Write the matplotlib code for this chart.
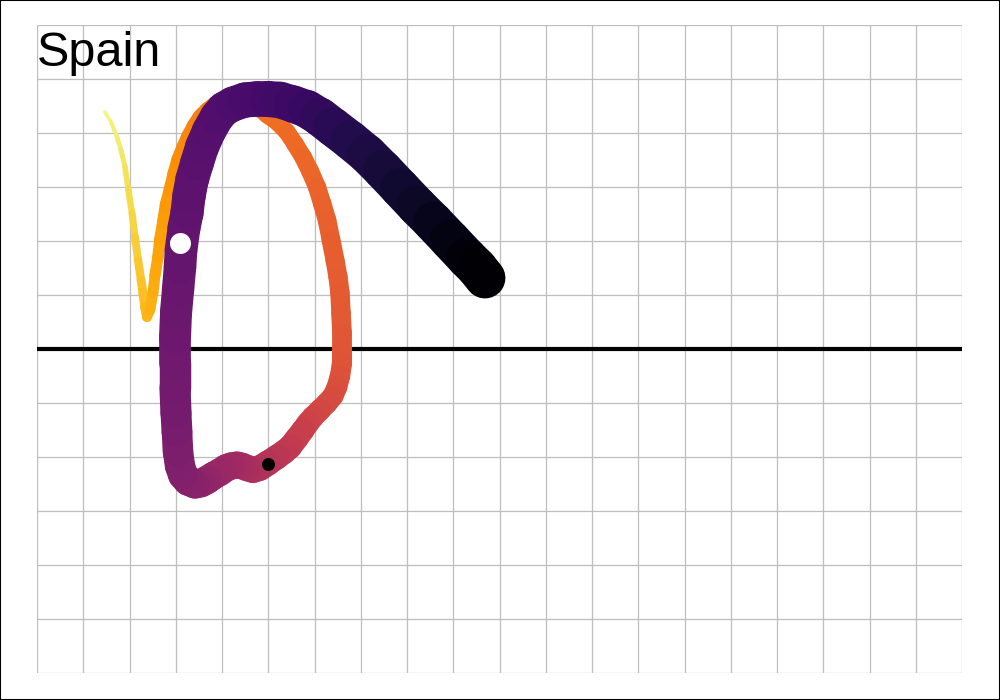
import numpy as np
import matplotlib
matplotlib.use("Agg")
import matplotlib.pyplot as plt
from matplotlib.collections import LineCollection
from matplotlib.patches import Rectangle

title = "Spain"

# path points (x, y) in data units and relative time (0..1)
xs = [1.470, 1.600, 1.730, 1.816, 1.903, 1.968, 2.054, 2.119, 2.184, 2.249,
      2.292, 2.335, 2.378, 2.443, 2.508, 2.551, 2.616, 2.659, 2.724, 2.789,
      2.876, 2.962, 3.049, 3.157, 3.265, 3.395, 3.524, 3.676, 3.849, 4.022,
      4.216, 4.411, 4.605, 4.778, 4.973, 5.189, 5.405, 5.578, 5.751, 5.903,
      6.054, 6.162, 6.270, 6.357, 6.443, 6.508, 6.551, 6.573, 6.595, 6.595,
      6.595, 6.551, 6.486, 6.400, 6.270, 6.119, 5.968, 5.859, 5.751, 5.622,
      5.470, 5.341, 5.189,
      4.995, 4.822, 4.670, 4.541, 4.432, 4.324, 4.195, 4.086, 3.957, 3.805,
      3.676, 3.546, 3.416, 3.265, 3.157, 3.092, 3.049, 3.027, 3.005, 2.984,
      2.984, 2.984, 3.005, 3.049, 3.092, 3.114, 3.178, 3.243, 3.286, 3.351,
      3.459, 3.568, 3.719, 3.892, 4.043, 4.238, 4.497, 4.757, 4.995, 5.254,
      5.535, 5.838, 6.119, 6.400, 6.768, 7.135, 7.481, 7.849, 8.216, 8.562,
      8.930, 9.297, 9.514, 9.686]
ys = [4.389, 4.204, 3.926, 3.685, 3.370, 2.981, 2.519, 2.074, 1.648, 1.278,
      1.037, 0.778, 0.593, 0.722, 1.037, 1.370, 1.704, 2.019, 2.333, 2.667,
      2.944, 3.241, 3.500, 3.722, 3.926, 4.130, 4.296, 4.426, 4.537, 4.593,
      4.630, 4.630, 4.574, 4.481, 4.333, 4.204, 4.019, 3.796, 3.556, 3.296,
      3.000, 2.704, 2.389, 2.019, 1.648, 1.333, 1.037, 0.667, 0.296, 0.019,
      -0.259, -0.500, -0.704, -0.870, -1.000, -1.130, -1.259, -1.370, -1.500, -1.648,
      -1.815, -1.907, -2.000,
      -2.111, -2.204, -2.241, -2.204, -2.167, -2.148, -2.167, -2.204, -2.278, -2.352,
      -2.426, -2.481, -2.500, -2.444, -2.333, -2.167, -1.907, -1.537, -1.185, -0.722,
      -0.259, 0.204, 0.667, 1.093, 1.519, 1.833, 2.241, 2.519, 2.833, 3.130,
      3.444, 3.741, 4.037, 4.296, 4.444, 4.537, 4.611, 4.630, 4.630, 4.611,
      4.537, 4.444, 4.296, 4.111, 3.870, 3.611, 3.315, 2.981, 2.648, 2.352,
      2.019, 1.685, 1.500, 1.315]
ts = [0.000, 0.010, 0.020, 0.030, 0.040, 0.055, 0.070, 0.085, 0.100, 0.110,
      0.120, 0.130, 0.140, 0.150, 0.158, 0.166, 0.174, 0.182, 0.190, 0.198,
      0.206, 0.214, 0.222, 0.230, 0.238, 0.245, 0.252, 0.258, 0.264, 0.270,
      0.275, 0.280, 0.285, 0.290, 0.295, 0.300, 0.305, 0.310, 0.315, 0.320,
      0.325, 0.330, 0.335, 0.340, 0.345, 0.349, 0.353, 0.357, 0.362, 0.367,
      0.372, 0.378, 0.385, 0.392, 0.400, 0.410, 0.420, 0.430, 0.440, 0.450,
      0.460, 0.470, 0.480,
      0.495, 0.505, 0.515, 0.525, 0.535, 0.542, 0.550, 0.558, 0.566, 0.575,
      0.585, 0.595, 0.605, 0.615, 0.625, 0.633, 0.641, 0.650, 0.658, 0.666,
      0.674, 0.681, 0.688, 0.694, 0.700, 0.705, 0.711, 0.716, 0.721, 0.726,
      0.731, 0.736, 0.742, 0.748, 0.754, 0.760, 0.767, 0.774, 0.781, 0.790,
      0.800, 0.812, 0.825, 0.840, 0.856, 0.872, 0.888, 0.905, 0.922, 0.940,
      0.958, 0.975, 0.988, 1.000]

white_dot = (3.092, 1.963)
black_dot = (4.995, -2.13)

fig = plt.figure(figsize=(10, 7), dpi=100)
fig.patch.set_facecolor("white")
ax = fig.add_axes([0.037, 0.0386, 0.925, 0.9257])
ax.set_xlim(0, 20)
ax.set_ylim(-6, 6)
ax.set_xticks(np.arange(0, 21, 1))
ax.set_yticks(np.arange(-6, 7, 1))
ax.grid(True, color="#bebebe", linewidth=0.9)
ax.tick_params(length=0, labelbottom=False, labelleft=False)
for s in ax.spines.values():
    s.set_visible(False)
ax.set_axisbelow(True)

ax.axhline(0, color="black", linewidth=3.0, zorder=2, solid_capstyle="butt")

x = np.array(xs); y = np.array(ys); t = np.array(ts)
pts = np.column_stack([x, y])
segs = np.stack([pts[:-1], pts[1:]], axis=1)
tm = (t[:-1] + t[1:]) / 2
cmap = plt.get_cmap("inferno")
colors = cmap(0.97 - 0.97 * tm)
widths_px = np.interp(tm, [0, 0.14, 0.345, 0.5, 0.6, 0.7, 0.775, 0.83, 1.0],
                      [3.5, 10, 19, 25.5, 29, 32.5, 35.5, 39, 41])
lc = LineCollection(segs, colors=colors, linewidths=widths_px * 0.72,
                    capstyle="round", joinstyle="round", zorder=3)
ax.add_collection(lc)

ax.scatter([white_dot[0]], [white_dot[1]], s=(21 * 0.72) ** 2, color="white",
           zorder=5, linewidths=0)
ax.scatter([black_dot[0]], [black_dot[1]], s=(13 * 0.72) ** 2, color="black",
           zorder=5, linewidths=0)

ax.text(0.0, 0.99, title, transform=ax.transAxes, ha="left", va="top",
        fontsize=35, family="Liberation Sans", color="black", zorder=6)

fig.patches.append(Rectangle((0, 0), 1, 1, transform=fig.transFigure,
                             fill=False, edgecolor="black", linewidth=1.5))

fig.savefig("out.png", dpi=100)
